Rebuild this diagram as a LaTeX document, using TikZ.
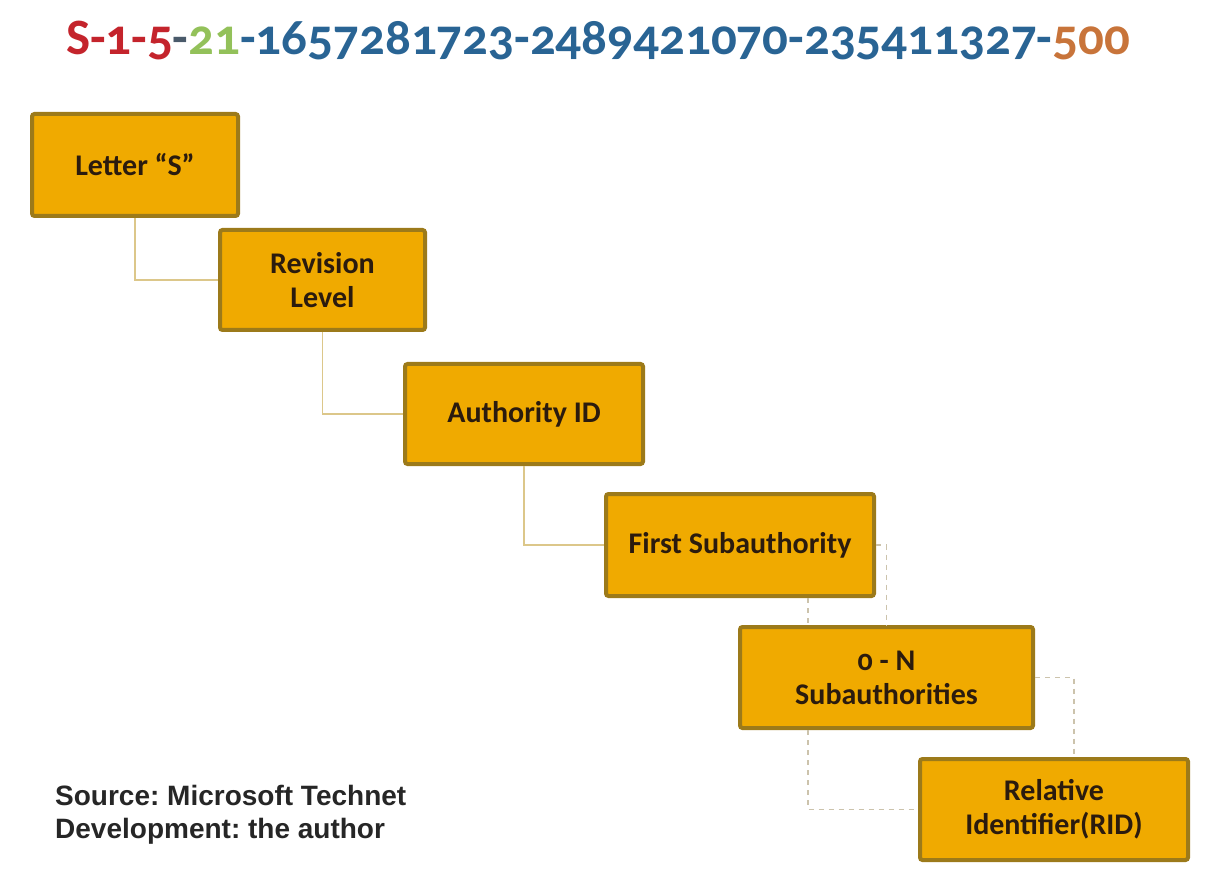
\documentclass[tikz,border=0pt]{standalone}
\usepackage{fontspec}
\setmainfont{Carlito}[Numbers=OldStyle]
\newfontfamily\srcfont{Liberation Sans}
\usetikzlibrary{positioning}
\frenchspacing

\definecolor{boxfill}{HTML}{F0AA00}
\definecolor{boxline}{HTML}{9C7A1A}
\definecolor{boxtext}{HTML}{2B1B0E}
\definecolor{linkline}{HTML}{DCC78A}
\definecolor{dashline}{HTML}{CCC3AC}
\definecolor{sidred}{HTML}{C4242C}
\definecolor{sidgreen}{HTML}{93C15A}
\definecolor{sidblue}{HTML}{296494}
\definecolor{sidorange}{HTML}{C8743A}
\definecolor{sidgrey}{HTML}{4A5A6A}

\tikzset{
  sidbox/.style={draw=boxline, line width=4pt, fill=boxfill, rounded corners=2.5pt,
    align=center, inner sep=0pt, text=boxtext,
    font=\fontsize{30}{34}\selectfont\bfseries},
  link/.style={draw=linkline, line width=1.6pt},
  dashlink/.style={draw=dashline, line width=1.6pt, dash pattern=on 5pt off 5pt},
  srctext/.style={anchor=base west, inner sep=0pt, text=black!85,
    font=\srcfont\fontsize{28}{32}\selectfont\bfseries},
}

\begin{document}
\begin{tikzpicture}[x=1pt, y=-1pt]
    \useasboundingbox (0,0) rectangle (1213,874);

    % SID string
    \node (sid) [anchor=base, inner sep=0pt, font=\fontsize{51}{60}\selectfont\bfseries] at (598,55)
        {\color{sidred}S-1-5\color{sidgrey}-\color{sidgreen}21\color{sidblue}-1657281723-2489421070-235411327-\color{sidorange}500};

    % parts of the SID
    \node (letter) [sidbox, minimum width=206pt, minimum height=102pt] at (135,165) {Letter \textquotedblleft S\textquotedblright};
    \node (revision) [sidbox, minimum width=205pt, minimum height=100pt] at (322.5,280) {Revision\\Level};
    \node (authority) [sidbox, minimum width=238pt, minimum height=100pt] at (524,414) {Authority ID};
    \node (first) [sidbox, minimum width=268pt, minimum height=102pt] at (740,545) {First Subauthority};
    \node (zeron) [sidbox, minimum width=293pt, minimum height=101pt] at (886.5,677.5) {0 - N\\Subauthorities};
    \node (rid) [sidbox, minimum width=268pt, minimum height=101pt] at (1054,809.5) {Relative\\Identifier(RID)};

    % solid connectors
    \draw[link] (letter.south) |- (revision.west);
    \draw[link] (revision.south) |- (authority.west);
    \draw[link] (authority.south) |- (first.west);

    % dashed connectors
    \draw[dashlink] (808,0 |- first.south) -- (808,0 |- zeron.north);
    \draw[dashlink] (first.east) -| (zeron.north);
    \draw[dashlink] (zeron.east) -| (1074,0 |- rid.north);
    \draw[dashlink] (808,0 |- zeron.south) |- (rid.west);

    % source note
    \node (src) [srctext] at (55,805) {Source: Microsoft Technet};
    \node (dev) [srctext] at (55,838) {Development: the author};
\end{tikzpicture}
\end{document}
